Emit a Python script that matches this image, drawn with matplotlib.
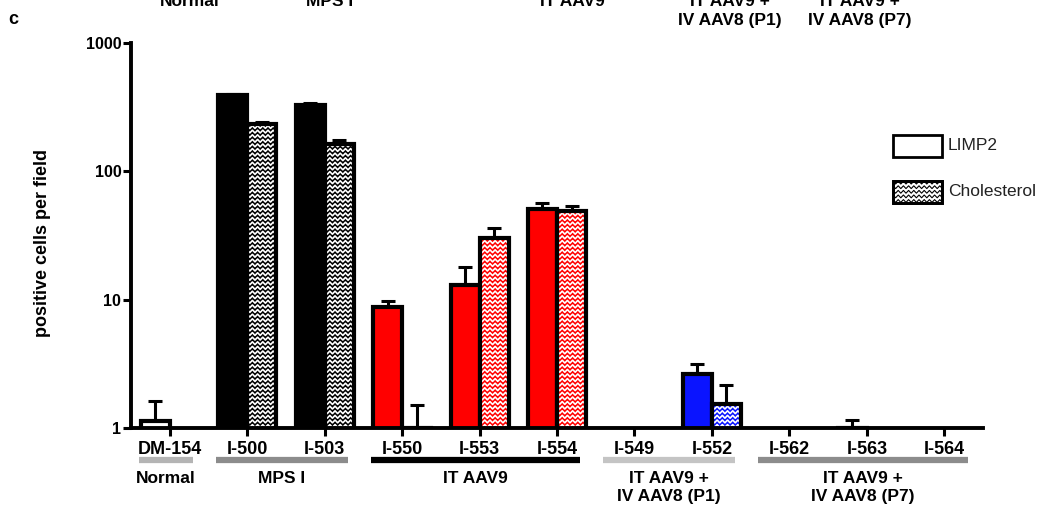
import numpy as np
import matplotlib.pyplot as plt
from matplotlib.patches import Rectangle
from matplotlib.collections import LineCollection
from matplotlib.transforms import IdentityTransform, blended_transform_factory
plt.switch_backend('agg')

plt.rcParams['font.family'] = ['Liberation Sans', 'DejaVu Sans']

samples = ['DM-154', 'I-500', 'I-503', 'I-550', 'I-553', 'I-554',
           'I-549', 'I-552', 'I-562', 'I-563', 'I-564']
limp2 = [1.13, 390, 330, 8.8, 13, 51, 0, 2.64, 0, 1.0, 0]
limp2_err = [0.5, 12, 10, 1.0, 5, 6, 0, 0.5, 0, 0.15, 0]
chol = [0, 235, 162, 1.0, 30, 49, 0, 1.54, 0, 0, 0]
chol_err = [0, 8, 15, 0.5, 6, 5, 0, 0.62, 0, 0, 0]
fills = ['white', 'black', 'black', '#ff0000', '#ff0000', '#ff0000',
         '#0a14ff', '#0a14ff', '#0a14ff', '#0a14ff', '#0a14ff']

groups = ['Normal', 'MPS I', 'IT AAV9',
          'IT AAV9 +\nIV AAV8 (P1)', 'IT AAV9 +\nIV AAV8 (P7)']
group_members = [[0], [1, 2], [3, 4, 5], [6, 7], [8, 9, 10]]
group_colors = ['#b4b4b4', '#8c8c8c', 'black', '#c4c4c4', '#8c8c8c']

fig = plt.figure(figsize=(10.39, 5.19), dpi=100)
ax = fig.add_axes([131 / 1039, 1 - 428 / 519, 852 / 1039, 385 / 519])

x = np.arange(len(samples))
w = 0.375
ax.set_yscale('log')
ax.set_xlim(-0.5, 10.5)
ax.set_ylim(1, 1000)

# error bars (upper only, behind the bars)
for xs, vals, errs in [(x - w / 2, limp2, limp2_err), (x + w / 2, chol, chol_err)]:
    vals = np.array(vals, float)
    errs = np.array(errs, float)
    m = errs > 0
    ax.errorbar(xs[m], vals[m], yerr=[np.zeros(m.sum()), errs[m]], fmt='none',
                ecolor='black', elinewidth=2.2, capsize=5, capthick=2.2, zorder=1)

ax.bar(x - w / 2, limp2, w, color=fills, edgecolor='black', linewidth=3, zorder=2)
cb = ax.bar(x + w / 2, chol, w, color=fills, edgecolor='none', zorder=2)


def zigzag_segments(x0, x1, y0, y1, sx=2.6, sy=4.6, amp=1.4):
    segs = []
    xs = np.arange(x0, x1 + sx, sx)
    for y in np.arange(y0 + 2, y1, sy):
        ys = y + amp * (-1) ** np.arange(len(xs))
        segs.append(np.column_stack([xs, ys]))
    return segs


# white zigzag fill pattern for the cholesterol bars
for patch, val in zip(cb.patches, chol):
    if val <= 1:
        continue
    bb = patch.get_window_extent()
    y0 = max(bb.y0, ax.bbox.y0)
    lc = LineCollection(zigzag_segments(bb.x0, bb.x1, y0, bb.y1),
                        colors='white', linewidths=1.2,
                        transform=IdentityTransform(), zorder=2.5)
    lc.set_clip_path(patch)
    ax.add_artist(lc)

ax.bar(x + w / 2, chol, w, fill=False, edgecolor='black', linewidth=3, zorder=3)

ax.set_xticks(x)
ax.set_xticklabels(samples, fontsize=13, fontweight='bold')
ax.set_yticks([1, 10, 100, 1000])
ax.set_yticklabels(['1', '10', '100', '1000'], fontsize=11.5, fontweight='bold')
ax.yaxis.set_minor_locator(plt.NullLocator())
ax.tick_params(axis='both', direction='out', length=6, width=2.2)
ax.tick_params(axis='x', pad=3)
ax.tick_params(axis='y', pad=1)
for side in ['top', 'right']:
    ax.spines[side].set_visible(False)
for side in ['left', 'bottom']:
    ax.spines[side].set_linewidth(2.8)

ax.set_ylabel('positive cells per field', fontsize=13, fontweight='bold')
ax.yaxis.set_label_coords(-0.094, 0.48)

# group bars and names below the axis
trans = blended_transform_factory(ax.transData, ax.transAxes)
for name, members, col in zip(groups, group_members, group_colors):
    a, b = members[0] - 0.4, members[-1] + 0.3
    ax.plot([a, b], [-0.083, -0.083], color=col, linewidth=4.5,
            solid_capstyle='butt', transform=trans, clip_on=False)
    ax.text((a + b) / 2, -0.112, name, transform=trans, ha='center', va='top',
            fontsize=12.5, fontweight='bold', linespacing=1.2)

# legend
for i, (label, zig) in enumerate([('LIMP2', False), ('Cholesterol', True)]):
    top = 135 + i * 46
    r = Rectangle((893 / 1039, 1 - (top + 22) / 519), 49 / 1039, 22 / 519,
                  transform=fig.transFigure, facecolor='white',
                  edgecolor='black', linewidth=2)
    fig.add_artist(r)
    if zig:
        lc = LineCollection(zigzag_segments(893, 942, 519 - top - 22, 519 - top),
                            colors='black', linewidths=0.8,
                            transform=IdentityTransform())
        lc.set_clip_path(r)
        fig.add_artist(lc)
        fig.add_artist(Rectangle((893 / 1039, 1 - (top + 22) / 519), 49 / 1039,
                                 22 / 519, transform=fig.transFigure,
                                 fill=False, edgecolor='black', linewidth=2))
    fig.text(948 / 1039, 1 - (top + 11) / 519, label, fontsize=12.5,
             va='center', ha='left', color='#222222')

# panel label and cut-off headings from the panel above
fig.text(8 / 1039, 1 - 20 / 519, 'c', fontsize=13, fontweight='bold', va='center')
heads = [(190, 'Normal'), (330, 'MPS I'), (572, 'IT AAV9'),
         (730, 'IT AAV9 +\nIV AAV8 (P1)'), (860, 'IT AAV9 +\nIV AAV8 (P7)')]
for hx, txt in heads:
    lines = txt.split('\n')
    fig.text(hx / 1039, 1 - 1 / 519, lines[0], fontsize=12.5, fontweight='bold',
             ha='center', va='center')
    if len(lines) > 1:
        fig.text(hx / 1039, 1 - 20 / 519, lines[1], fontsize=12.5,
                 fontweight='bold', ha='center', va='center')

fig.savefig('out.png', dpi=100)
